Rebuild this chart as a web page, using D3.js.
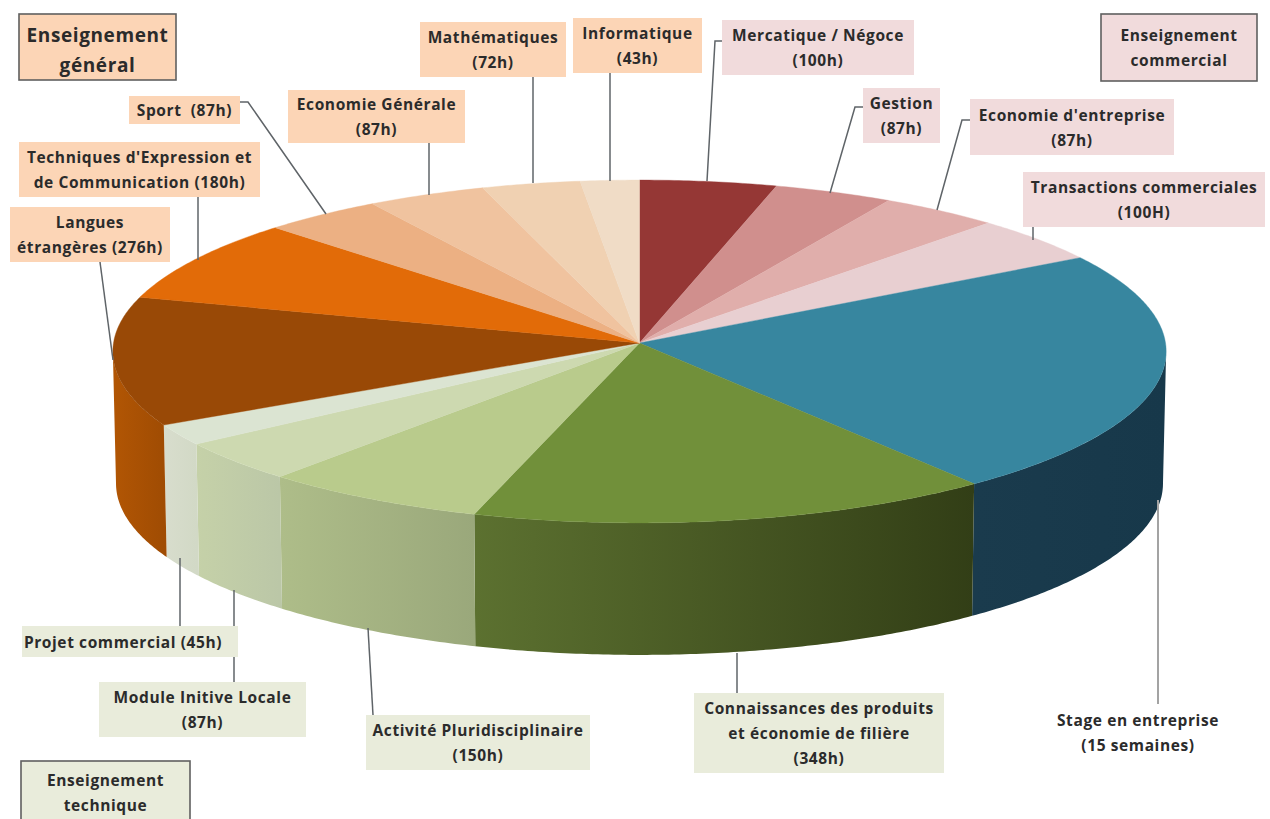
<!DOCTYPE html>
<html lang="fr">
<head>
<meta charset="utf-8">
<title>Répartition des enseignements</title>
<script src="https://cdnjs.cloudflare.com/ajax/libs/d3/7.8.5/d3.min.js"></script>
<style>
  html, body { margin: 0; padding: 0; background: #fff; }
  svg { display: block; }
  text { font-family: "Open Sans", Lato, sans-serif; font-weight: 700; fill: #2b2b2b; text-anchor: middle; letter-spacing: 0.6px; }
</style>
</head>
<body>
<svg id="chart" width="1270" height="819" viewBox="0 0 1270 819"></svg>
<script>
// Volume horaire par module, dans le sens horaire depuis midi
const modules = [
  "Mercatique / Négoce", "Gestion", "Economie d'entreprise", "Transactions commerciales",
  "Stage en entreprise", "Connaissances des produits", "Activité Pluridisciplinaire",
  "Module Initive Locale", "Projet commercial", "Langues étrangères",
  "Techniques d'Expression", "Sport", "Economie Générale", "Mathématiques", "Informatique"
];
// Le stage compte 15 semaines de 35 h
const hours = [100, 87, 87, 100, 525, 348, 150, 87, 45, 276, 180, 87, 87, 72, 43];

const topColours = [
  "#953735", "#d08f8d", "#e0aeab", "#e8cfd1", "#37869f", "#71903a", "#b9cb8c",
  "#cdd9b0", "#dbe4d2", "#994906", "#e26b08", "#ecb083", "#f0c39f", "#f0d1b2", "#f0dcc6"
];
// Teintes des flancs : gauche puis droite de chaque tranche
const wallLeft = [
  "#5e2120", "#7d5554", "#866866", "#8a7b7d", "#1a3b4d", "#5c7130", "#aebd89",
  "#c5d1a8", "#d8ddcd", "#b25604", "#8a4105", "#8d6a4f", "#907560", "#907d6b", "#908477"
];
const wallRight = [
  "#5e2120", "#7d5554", "#866866", "#8a7b7d", "#17384a", "#323e16", "#9aa87b",
  "#bbc7a7", "#d2d9c6", "#a04c03", "#8a4105", "#8d6a4f", "#907560", "#907d6b", "#908477"
];

// Étiquettes : lignes de texte et cadre
const labelLines = [
  ["Mercatique / Négoce", "(100h)"], ["Gestion", "(87h)"], ["Economie d'entreprise", "(87h)"],
  ["Transactions commerciales", "(100H)"], ["Stage en entreprise", "(15 semaines)"],
  ["Connaissances des produits", "et économie de filière", "(348h)"],
  ["Activité Pluridisciplinaire", "(150h)"], ["Module Initive Locale", "(87h)"],
  ["Projet commercial (45h)"], ["Langues", "étrangères (276h)"],
  ["Techniques d'Expression et", "de Communication (180h)"], ["Sport  (87h)"],
  ["Economie Générale", "(87h)"], ["Mathématiques", "(72h)"], ["Informatique", "(43h)"]
];
const ORANGE = "#fcd5b6", PINK = "#f1dbdc", GREEN = "#e9ecdb";
const labelFills = [PINK, PINK, PINK, PINK, null, GREEN, GREEN, GREEN, GREEN,
                    ORANGE, ORANGE, ORANGE, ORANGE, ORANGE, ORANGE];
const labelBoxes = [
  [722, 20, 192, 55], [863, 88, 77, 55], [970, 99, 204, 56], [1023, 172, 242, 55],
  [1050, 704, 176, 56], [694, 693, 250, 80], [366, 715, 224, 55], [99, 682, 207, 55],
  [22, 626, 216, 31], [10, 207, 160, 55], [19, 142, 241, 55], [129, 96, 111, 28],
  [288, 90, 177, 53], [420, 22, 146, 55], [573, 18, 129, 55]
];
// Décalage horizontal du texte dans son cadre
const labelNudge = [0, 0, 0, 0, 0, 0, 0, 0, -7, 0, 0, 0, 0, 0, 0];
const leaders = [
  [[722, 41], [715, 41], [707, 181]], [[863, 107], [855, 107], [830, 193]],
  [[970, 120], [962, 120], [937, 210]], [[1033, 227], [1033, 240]],
  [[1158, 500], [1158, 704]], [[737, 653], [737, 693]], [[368, 628], [373, 715]],
  [[234, 590], [234, 682]], [[180, 558], [180, 626]], [[100, 262], [113, 360]],
  [[198, 197], [198, 260]], [[240, 102], [248, 102], [326, 214]],
  [[429, 143], [429, 195]], [[533, 77], [533, 183]], [[610, 73], [610, 181]]
];

// Cadres de légende des trois familles d'enseignement
const familyNames = [["Enseignement", "général"], ["Enseignement", "commercial"], ["Enseignement", "technique"]];
const familyFills = [ORANGE, PINK, GREEN];
const familyBoxes = [[19, 14, 157, 66], [1101, 14, 156, 67], [21, 761, 169, 70]];
const familySizes = [19, 15.5, 15.5];
const familyBaselines = [[42, 72], [41, 66], [786, 811]];

const svg = d3.select("#chart");
const defs = svg.append("defs");

// Projection en perspective du disque : le bord proche paraît plus grand
const apex = { x: 639.5, y: 343 };
const persp = 0.0495;
const depth = 132;
function project(angle, radius, drop) {
  const u = Math.sin(angle) * radius;
  const v = -Math.cos(angle) * radius;
  const w = 1 - persp * v;
  const shrink = 1 - 0.006 * (drop / depth);
  return [apex.x + 526 * shrink * u / w, apex.y + drop + 171 * v / w];
}

const arcs = d3.pie().sort(null).value(d => d)(hours);
const line = d3.line();
// Les flancs sont visibles entre les deux points de tangence de la silhouette
const FRONT_START = Math.acos(-persp);
const FRONT_END = 2 * Math.PI - FRONT_START;

function rimAngles(a0, a1) {
  const n = Math.max(2, Math.ceil((a1 - a0) / 0.01));
  return d3.range(n + 1).map(i => a0 + (a1 - a0) * i / n);
}

const walls = arcs
  .map((a, i) => ({ i, a0: Math.max(a.startAngle, FRONT_START), a1: Math.min(a.endAngle, FRONT_END) }))
  .filter(d => d.a1 > d.a0);

walls.forEach(d => {
  const left = project(d.a1, 1, 0)[0];
  const right = project(d.a0, 1, 0)[0];
  const grad = defs.append("linearGradient")
    .attr("id", `wall-${d.i}`)
    .attr("gradientUnits", "userSpaceOnUse")
    .attr("x1", left).attr("x2", right).attr("y1", 0).attr("y2", 0);
  grad.append("stop").attr("offset", 0).attr("stop-color", wallLeft[d.i]);
  grad.append("stop").attr("offset", 1).attr("stop-color", wallRight[d.i]);
});

svg.append("g").selectAll("path").data(walls).join("path")
  .attr("fill", d => `url(#wall-${d.i})`)
  .attr("d", d => {
    const ts = rimAngles(d.a0, d.a1);
    const upper = ts.map(t => project(t, 1, 0));
    const lower = ts.slice().reverse().map(t => project(t, 1, depth));
    return line(upper.concat(lower)) + "Z";
  });

// Face supérieure
svg.append("g").selectAll("path").data(arcs).join("path")
  .attr("fill", (d, i) => topColours[i])
  .attr("stroke", (d, i) => topColours[i])
  .attr("stroke-width", 0.4)
  .attr("d", d => {
    const rim = rimAngles(d.startAngle, d.endAngle).map(t => project(t, 1, 0));
    return line([[apex.x, apex.y]].concat(rim)) + "Z";
  });

// Traits de rappel, placés sous les étiquettes
svg.append("g").attr("fill", "none").selectAll("path").data(leaders).join("path")
  .attr("d", d => line(d))
  .attr("stroke", (d, i) => i === 4 ? "#a3a3a3" : "#5f6468")
  .attr("stroke-width", (d, i) => i === 4 ? 2 : 1.5);

// Étiquettes
const labelSize = 15.5;
const labels = svg.append("g").selectAll("g").data(labelLines).join("g");
labels.filter((d, i) => labelFills[i] !== null).append("rect")
  .attr("x", d => labelBoxes[labelLines.indexOf(d)][0])
  .attr("y", d => labelBoxes[labelLines.indexOf(d)][1])
  .attr("width", d => labelBoxes[labelLines.indexOf(d)][2])
  .attr("height", d => labelBoxes[labelLines.indexOf(d)][3])
  .attr("fill", d => labelFills[labelLines.indexOf(d)]);
labels.each(function (rows, i) {
  const [x, y, w, h] = labelBoxes[i];
  const lineStep = 25;
  const first = y + h / 2 - (rows.length - 1) * lineStep / 2 + 6;
  d3.select(this).selectAll("text").data(rows).join("text")
    .attr("x", x + w / 2 + labelNudge[i])
    .attr("y", (r, k) => first + k * lineStep)
    .attr("font-size", labelSize)
    .attr("xml:space", "preserve")
    .text(r => r);
});

// Cadres de famille
const families = svg.append("g").selectAll("g").data(familyNames).join("g");
families.append("rect")
  .attr("x", (d, i) => familyBoxes[i][0])
  .attr("y", (d, i) => familyBoxes[i][1])
  .attr("width", (d, i) => familyBoxes[i][2])
  .attr("height", (d, i) => familyBoxes[i][3])
  .attr("fill", (d, i) => familyFills[i])
  .attr("stroke", "#5f5f5f")
  .attr("stroke-width", 1.6);
families.each(function (rows, i) {
  const [x, , w] = familyBoxes[i];
  d3.select(this).selectAll("text").data(rows).join("text")
    .attr("x", x + w / 2)
    .attr("y", (r, k) => familyBaselines[i][k])
    .attr("font-size", familySizes[i])
    .text(r => r);
});
</script>
</body>
</html>
